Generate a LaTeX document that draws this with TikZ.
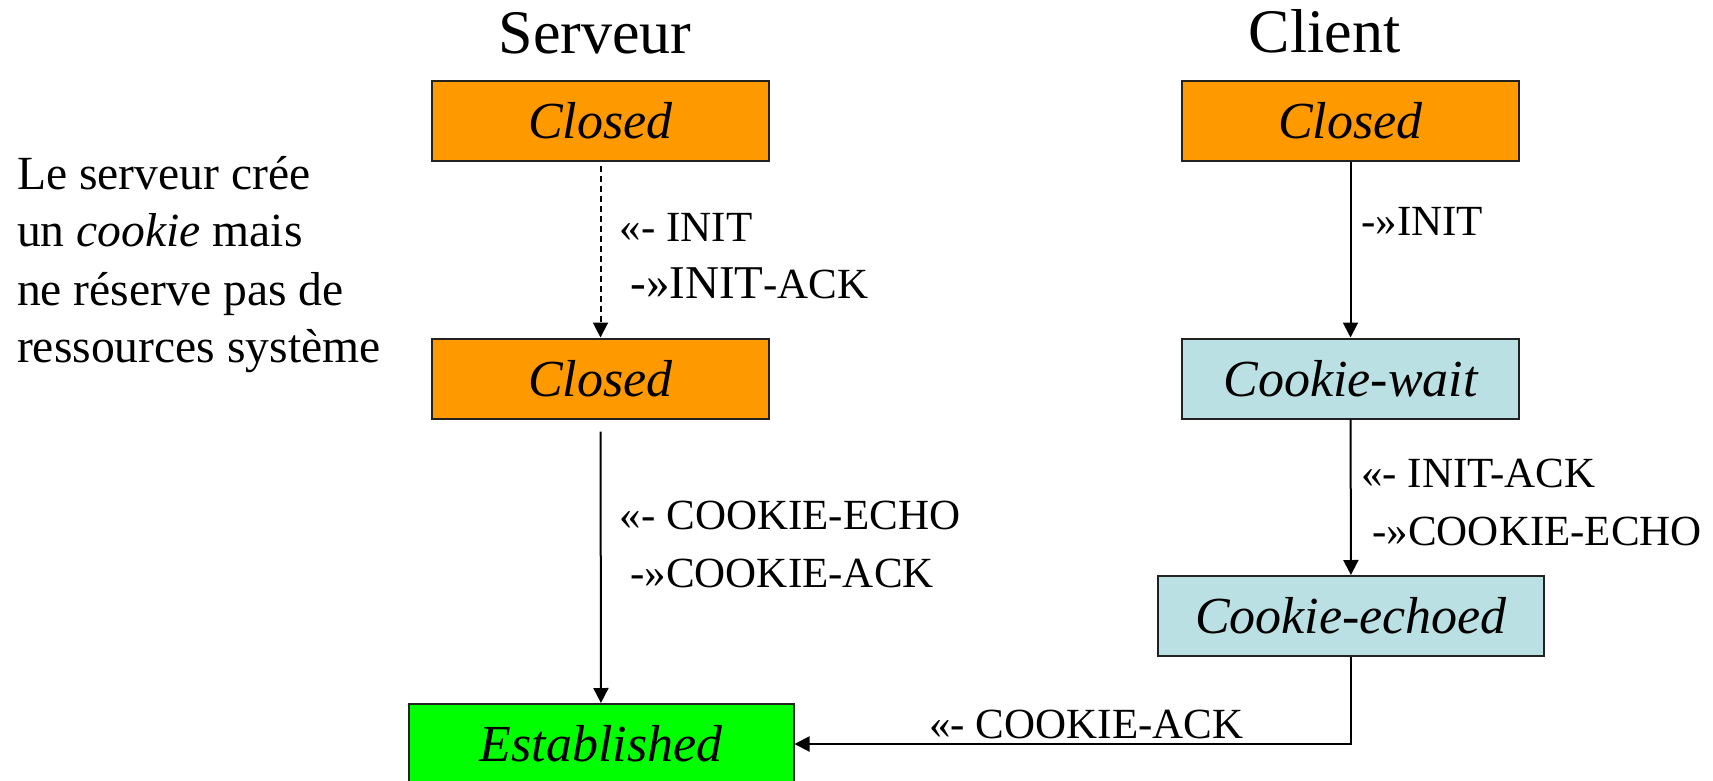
\documentclass[tikz,border=0pt]{standalone}
\usepackage{fontspec}
\setmainfont{Liberation Serif}
\usetikzlibrary{arrows.meta}
\definecolor{boxorange}{HTML}{FF9900}
\definecolor{boxblue}{HTML}{BBE0E3}
\definecolor{boxgreen}{HTML}{00FF00}
\definecolor{boxline}{HTML}{222222}
\tikzset{
  state/.style={draw=boxline, line width=1pt, minimum width=168.5pt, minimum height=40pt,
    inner sep=0pt, font=\fontsize{26pt}{30pt}\selectfont\itshape},
  orangebox/.style={state, fill=boxorange},
  bluebox/.style={state, fill=boxblue},
  greenbox/.style={state, fill=boxgreen},
  lbl/.style={anchor=base west, inner sep=0pt, font=\fontsize{21.5pt}{26pt}\selectfont},
  side/.style={anchor=base west, inner sep=0pt, font=\fontsize{23.8pt}{28pt}\selectfont},
  title/.style={anchor=base, inner sep=0pt, font=\fontsize{31pt}{36pt}\selectfont},
  conn/.style={line width=1pt, -{Triangle[width=7.5pt,length=7.5pt]}},
}
\begin{document}
\begin{tikzpicture}[x=0.5pt, y=-0.5pt]
\useasboundingbox (0,0) rectangle (1713,781);
% titles
\node[title] (tS) at (595,53.3) {Serveur};
\node[title] (tC) at (1324.5,53) {Client};
% states
\node[orangebox] (c1) at (600.5,121) {Closed};
\node[orangebox] (c2) at (600.5,378.5) {Closed};
\node[greenbox, minimum width=192.5pt] (est) at (601,744) {Established};
\node[orangebox] (k1) at (1350.5,121) {Closed};
\node[bluebox] (k2) at (1350.5,378.5) {Cookie-wait};
\node[bluebox, minimum width=193pt] (k3) at (1351,616) {Cookie-echoed};
% connectors
\draw[conn, dash pattern=on 3pt off 2pt, shorten <=2pt] (c1) -- (c2);
\draw[conn, shorten <=6pt] (c2) -- (est);
\draw[conn] (k1) -- (k2);
\draw[conn] (k2) -- (k3);
\draw[conn] (k3.south) |- (est.east);
% labels
\node[lbl] (a1) at (619.5,241) {«- INIT};
\node[lbl] (a2) at (630,298) {{\fontsize{23.5pt}{26pt}\selectfont -»INIT}-ACK};
\node[lbl] (a3) at (619.5,529) {«- COOKIE-ECHO};
\node[lbl] (a4) at (630,587) {-»COOKIE-ACK};
\node[lbl] (b1) at (1361,235) {-»INIT};
\node[lbl] (b2) at (1361,487) {«- INIT-ACK};
\node[lbl] (b3) at (1372,545) {-»COOKIE-ECHO};
\node[lbl] (b4) at (929,738) {«- COOKIE-ACK};
% side text
\node[side] (l1) at (16.7,190) {Le serveur crée};
\node[side] (l2) at (16.7,246.7) {un \textit{cookie} mais};
\node[side] (l3) at (16.7,305) {ne réserve pas de};
\node[side] (l4) at (16.7,362.7) {ressources système};
\end{tikzpicture}
\end{document}
